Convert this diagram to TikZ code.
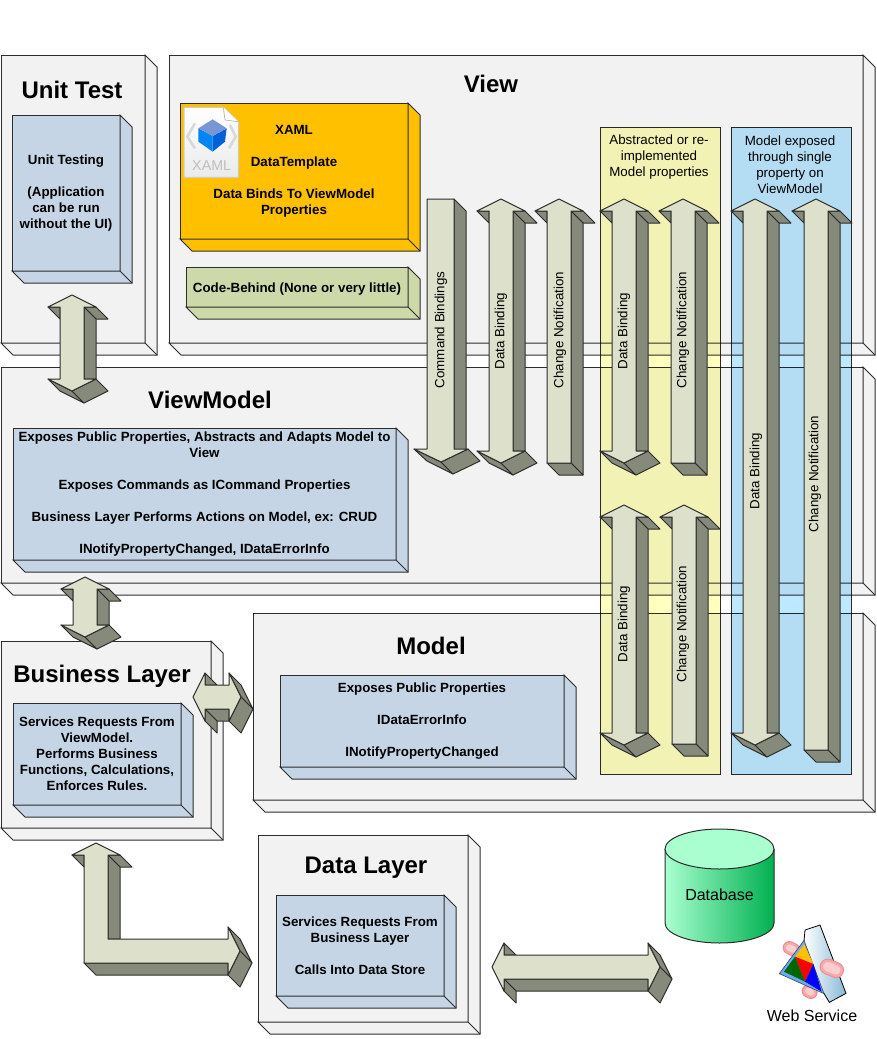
\documentclass[tikz,border=0pt]{standalone}
\usepackage{fontspec}
\setmainfont{Liberation Sans}
\usepackage{tikz}
\usetikzlibrary{positioning}
\definecolor{edgecol}{RGB}{45,45,45}
\definecolor{boxgrey}{RGB}{242,242,242}
\definecolor{innerblue}{RGB}{198,213,230}
\definecolor{xamlorange}{RGB}{255,192,0}
\definecolor{codegreen}{RGB}{205,217,168}
\definecolor{arrowlight}{RGB}{221,225,203}
\definecolor{arrowdark}{RGB}{134,138,122}
\definecolor{paneyellow}{RGB}{255,255,190}
\definecolor{paneblue}{RGB}{190,232,255}
\definecolor{dblight}{RGB}{169,255,208}
\definecolor{dbdark}{RGB}{0,176,80}
\definecolor{pillout}{RGB}{235,140,145}
\definecolor{pillmid}{RGB}{244,170,170}
\definecolor{pillin}{RGB}{252,205,205}
\definecolor{prismblue}{RGB}{135,185,215}
% one unit is one pixel of the reference, y runs downwards
\newcommand{\blockbox}[7]{%
  \node[#2, anchor=north west, minimum width=#5*0.75pt, minimum height=#6*0.75pt] (#1) at (#3,#4) {#7};
  \draw[#2] (#1.north east) -- ++(12,12) -- ++(0,#6) -- ++(-#5,0) -- (#1.south west) -- (#1.south east) -- cycle;
  \draw[#2] (#1.south east) -- ++(12,12);
}
\newcommand{\tophead}[2]{%
  \draw[arrside] ({#1+12},{#2+12}) -- ({#1+24},{#2+12}) -- ({#1+36},{#2+24}) -- ({#1+24},{#2+24}) -- cycle;
  \draw[arrside] ({#1-24},{#2+12}) -- ({#1-12},{#2+24}) -- ({#1-12},{#2+12}) -- cycle;
}
\newcommand{\dblarrow}[3]{%
  \tophead{#1}{#2}
  \draw[arrside] ({#1+12},{#2+12}) -- ({#1+24},{#2+24}) -- ({#1+24},{#3-12}) -- ({#1+12},{#3-12}) -- cycle;
  \draw[arrside] ({#1-24},{#3-12}) -- (#1,#3) -- ({#1+12},{#3+12}) -- ({#1-12},{#3}) -- cycle;
  \draw[arrside] (#1,#3) -- ({#1+24},{#3-12}) -- ({#1+36},{#3}) -- ({#1+12},{#3+12}) -- cycle;
  \draw[arrfront] (#1,#2) -- ({#1+24},{#2+12}) -- ({#1+12},{#2+12}) -- ({#1+12},{#3-12}) -- ({#1+24},{#3-12})
    -- (#1,#3) -- ({#1-24},{#3-12}) -- ({#1-12},{#3-12}) -- ({#1-12},{#2+12}) -- ({#1-24},{#2+12}) -- cycle;
}
\newcommand{\uparw}[3]{%
  \tophead{#1}{#2}
  \draw[arrside] ({#1+12},{#2+12}) -- ({#1+24},{#2+24}) -- ({#1+24},{#3+12}) -- ({#1+12},#3) -- cycle;
  \draw[arrside] ({#1-12},#3) -- ({#1+12},#3) -- ({#1+24},{#3+12}) -- (#1,{#3+12}) -- cycle;
  \draw[arrfront] (#1,#2) -- ({#1+24},{#2+12}) -- ({#1+12},{#2+12}) -- ({#1+12},#3) -- ({#1-12},#3)
    -- ({#1-12},{#2+12}) -- ({#1-24},{#2+12}) -- cycle;
}
\newcommand{\sidearrow}[3]{%
  \draw[arrside] ({#2+12},{#1+12}) -- ({#2+24},{#1+24}) -- ({#3-12},{#1+24}) -- ({#3-12},{#1+12}) -- cycle;
  \draw[arrside] ({#2+12},{#1+12}) -- ({#2+24},{#1+24}) -- ({#2+24},{#1+36}) -- ({#2+12},{#1+24}) -- cycle;
  \draw[arrside] ({#2+12},{#1-24}) -- ({#2+24},{#1-12}) -- ({#2+12},{#1-12}) -- cycle;
  \draw[arrside] ({#3-12},{#1-24}) -- (#3,#1) -- ({#3+12},{#1+12}) -- (#3,{#1-12}) -- cycle;
  \draw[arrside] (#3,#1) -- ({#3-12},{#1+24}) -- (#3,{#1+36}) -- ({#3+12},{#1+12}) -- cycle;
  \draw[arrfront] (#2,#1) -- ({#2+12},{#1-24}) -- ({#2+12},{#1-12}) -- ({#3-12},{#1-12}) -- ({#3-12},{#1-24})
    -- (#3,#1) -- ({#3-12},{#1+24}) -- ({#3-12},{#1+12}) -- ({#2+12},{#1+12}) -- ({#2+12},{#1+24}) -- cycle;
}
\newcommand{\pill}[5]{%
  \draw[draw=pillout, line width=#5, line cap=round] (#1,#2) -- (#3,#4);
  \draw[draw=pillmid, line width=#5-1.5pt, line cap=round] (#1,#2) -- (#3,#4);
  \draw[draw=pillin, line width=#5-5pt, line cap=round] (#1,#2) -- (#3,#4);
}
\begin{document}
\begin{tikzpicture}[
  x=0.75pt, y=-0.75pt,
  outerbox/.style={draw=edgecol, fill=boxgrey, line width=0.75pt, inner sep=0pt, outer sep=0pt},
  innerbox/.style={draw=edgecol, fill=innerblue, line width=0.75pt, inner sep=0pt, outer sep=0pt,
                   align=center, font=\bfseries\fontsize{10}{12}\selectfont,
                   execute at begin node={\rule{0pt}{10.5pt}}},
  orangebox/.style={innerbox, fill=xamlorange},
  greenbox/.style={innerbox, fill=codegreen},
  title/.style={font=\bfseries\fontsize{18}{20}\selectfont, text height=13pt, text depth=0pt, inner sep=0pt},
  pane/.style={draw=edgecol, line width=0.75pt, inner sep=0pt, outer sep=0pt, anchor=north west},
  panetext/.style={align=center, font=\fontsize{10}{12}\selectfont, inner sep=0pt},
  arrfront/.style={draw=edgecol, fill=arrowlight, line width=0.75pt, line join=round},
  arrside/.style={draw=edgecol, fill=arrowdark, line width=0.75pt, line join=round},
  arrlabel/.style={rotate=90, font=\fontsize{10}{12}\selectfont, inner sep=0pt}
]
\useasboundingbox (0,0) rectangle (876,1039);

\blockbox{view}{outerbox}{169}{55}{694}{288}{}
\blockbox{unittest}{outerbox}{1}{55}{144}{288}{}
\blockbox{viewmodel}{outerbox}{1}{367}{862}{216}{}
\blockbox{model}{outerbox}{253}{613}{610}{187}{}
\blockbox{business}{outerbox}{1}{641}{210}{187}{}
\blockbox{datalayer}{outerbox}{258}{835}{210}{187}{}

\node[title] (unittitle) at (72,89.5) {Unit Test};
\node[title] (viewtitle) at (491,84) {View};
\node[title] (vmtitle) at (210,400) {ViewModel};
\node[title] (businesstitle) at (102,674) {Business Layer};
\node[title] (modeltitle) at (431,646) {Model};
\node[title] (datatitle) at (366,865) {Data Layer};

\blockbox{unitinner}{innerbox}{12}{115}{108}{156}
  {Unit Testing\\ \\(Application\\can be run\\without the UI)}
\blockbox{xamlbox}{orangebox}{180}{103}{228}{136}
  {XAML\\ \\DataTemplate\\ \\Data Binds To ViewModel\\Properties}
\blockbox{codebehind}{greenbox}{186}{267}{222}{40}{Code-Behind (None or very little)}
\blockbox{vminner}{innerbox}{13}{428}{383}{132}
  {Exposes Public Properties, Abstracts and Adapts Model to\\View\\ \\Exposes Commands as ICommand Properties\\ \\
   Business Layer Performs Actions on Model, ex: CRUD\\ \\INotifyPropertyChanged, IDataErrorInfo}
\blockbox{businner}{innerbox}{13}{703}{168}{102}
  {Services Requests From\\ViewModel.\\Performs Business\\Functions, Calculations,\\Enforces Rules.}
\blockbox{modelinner}{innerbox}{280}{675}{284}{92}
  {Exposes Public Properties\\ \\IDataErrorInfo\\ \\INotifyPropertyChanged}
\blockbox{datainner}{innerbox}{276}{895}{168}{101}
  {Services Requests From\\Business Layer\\ \\Calls Into Data Store}

% xaml file icon
\begin{scope}[shift={(180,100)}, x=0.25pt, y=-0.25pt]
  \shade[top color=white, bottom color=black!8] (12,22) -- (130,22) -- (175,65) -- (175,232) -- (12,232) -- cycle;
  \draw[draw=black!20, line width=0.75pt] (12,22) -- (130,22) -- (175,65) -- (175,232) -- (12,232) -- cycle;
  \draw[draw=black!30, fill=white, line width=0.5pt] (130,22) -- (135,60) -- (175,65);
  \draw[draw=black!15, line width=2pt] (45,70) -- (22,110) -- (45,145);
  \draw[draw=black!15, line width=2pt] (150,75) -- (167,110) -- (147,145);
  \fill[blue!55!cyan!85!black] (98,108) -- (140,85) -- (135,125) -- (98,155) -- cycle;
  \fill[blue!45!cyan!95!black] (55,85) -- (98,108) -- (98,155) -- (55,125) -- cycle;
  \fill[cyan!40!blue!55!white] (98,58) -- (140,85) -- (98,108) -- (55,85) -- cycle;
  \node[text=black!25, font=\fontsize{10.7}{12}\selectfont, inner sep=0pt] (xamlicon) at (95,197) {XAML};
\end{scope}

% panes lie over the boxes, their lines show through
\begin{scope}[blend mode=multiply]
  \node[pane, fill=paneyellow, minimum width=90pt, minimum height=485.25pt] (yellowpane) at (600,127) {};
  \node[pane, fill=paneblue, minimum width=90pt, minimum height=485.25pt] (bluepane) at (731,127) {};
\end{scope}
\node[panetext] (yellowtext) at (659,157) {Abstracted or re-\\implemented\\Model properties};
\node[panetext] (bluetext) at (790,165) {Model exposed\\through single\\property on\\ViewModel};

\dblarrow{72}{295}{391}
\dblarrow{85}{577}{637}
\sidearrow{697}{193}{241}
\sidearrow{967}{492}{660}

% command bindings only points down and is a little wider
\draw[arrside] (454,199) -- (466,211) -- (466,461) -- (454,449) -- cycle;
\draw[arrside] (414,449) -- (441,462) -- (453,474) -- (427,461) -- cycle;
\draw[arrside] (441,462) -- (468,449) -- (480,461) -- (453,474) -- cycle;
\draw[arrfront] (427,199) -- (454,199) -- (454,449) -- (468,449) -- (441,462) -- (414,449) -- (427,449) -- cycle;

\dblarrow{501}{199}{463}
\uparw{559}{199}{463}
\dblarrow{624}{199}{463}
\uparw{683}{199}{463}
\dblarrow{624}{505}{745}
\uparw{684}{505}{744}
\dblarrow{755}{199}{745}
\uparw{816}{199}{750}

\node[arrlabel] (cmdlabel) at (441,330) {Command Bindings};
\node[arrlabel] (bindlabel) at (501,331) {Data Binding};
\node[arrlabel] (notifylabel) at (560,330) {Change Notification};
\node[arrlabel] (bindyellow) at (624,331) {Data Binding};
\node[arrlabel] (notifyyellow) at (683,330) {Change Notification};
\node[arrlabel] (bindlower) at (624,624) {Data Binding};
\node[arrlabel] (notifylower) at (683,624) {Change Notification};
\node[arrlabel] (bindblue) at (756,471) {Data Binding};
\node[arrlabel] (notifyblue) at (815,474) {Change Notification};

% elbow arrow to the data layer
\draw[arrside] (108,855) -- (120,855) -- (132,867) -- (120,867) -- cycle;
\draw[arrside] (72,855) -- (84,867) -- (84,855) -- cycle;
\draw[arrside] (108,855) -- (120,867) -- (120,939) -- (108,939) -- cycle;
\draw[arrside] (84,963) -- (96,975) -- (228,975) -- (228,963) -- cycle;
\draw[arrside] (228,927) -- (240,951) -- (252,963) -- (240,939) -- cycle;
\draw[arrside] (240,951) -- (228,975) -- (240,987) -- (252,963) -- cycle;
\draw[arrfront] (96,843) -- (120,855) -- (108,855) -- (108,939) -- (228,939) -- (228,927) -- (240,951)
  -- (228,975) -- (228,963) -- (84,963) -- (84,855) -- (72,855) -- cycle;

% database drum
\shade[left color=dblight, right color=dbdark] (665,849) -- (665,923)
  arc[start angle=180, end angle=360, x radius=40.875pt, y radius=15pt] -- (774,849) -- cycle;
\draw[draw=edgecol, line width=0.75pt] (665,849) -- (665,923)
  arc[start angle=180, end angle=360, x radius=40.875pt, y radius=15pt] -- (774,849);
\draw[draw=edgecol, fill=dblight, line width=0.75pt] (719.5,849) ellipse [x radius=40.875pt, y radius=15pt];
\node[font=\fontsize{12}{14}\selectfont, inner sep=0pt] (database) at (719.5,895) {Database};

% web service icon
\begin{scope}[shift={(760,915)}, x=0.25pt, y=-0.25pt]
  \pill{88}{98}{100}{104}{10pt}
  \pill{145}{228}{153}{232}{10pt}
  \shade[left color=white, right color=prismblue] (135,45) -- (180,30) -- (258,235) -- (208,262) -- (190,232) -- (132,78) -- cycle;
  \draw[draw=black, line width=0.6pt] (132,78) -- (135,45) -- (180,30) -- (258,235) -- (208,262) -- (190,232);
  \pill{203}{155}{228}{165}{12pt}
  \draw[draw=black!70, fill=blue!55!cyan!60, line width=0.5pt] (132,76) -- (192,236) -- (58,176) -- cycle;
  \fill[xamlorange] (132,88) -- (160,147) -- (105,125) -- cycle;
  \fill[red] (105,125) -- (160,147) -- (135,200) -- cycle;
  \fill[green!40!black] (105,125) -- (135,200) -- (72,170) -- cycle;
  \fill[blue] (160,147) -- (185,230) -- (135,200) -- cycle;
\end{scope}
\node[font=\fontsize{12}{14}\selectfont, inner sep=0pt] (webservice) at (812,1016) {Web Service};
\end{tikzpicture}
\end{document}
